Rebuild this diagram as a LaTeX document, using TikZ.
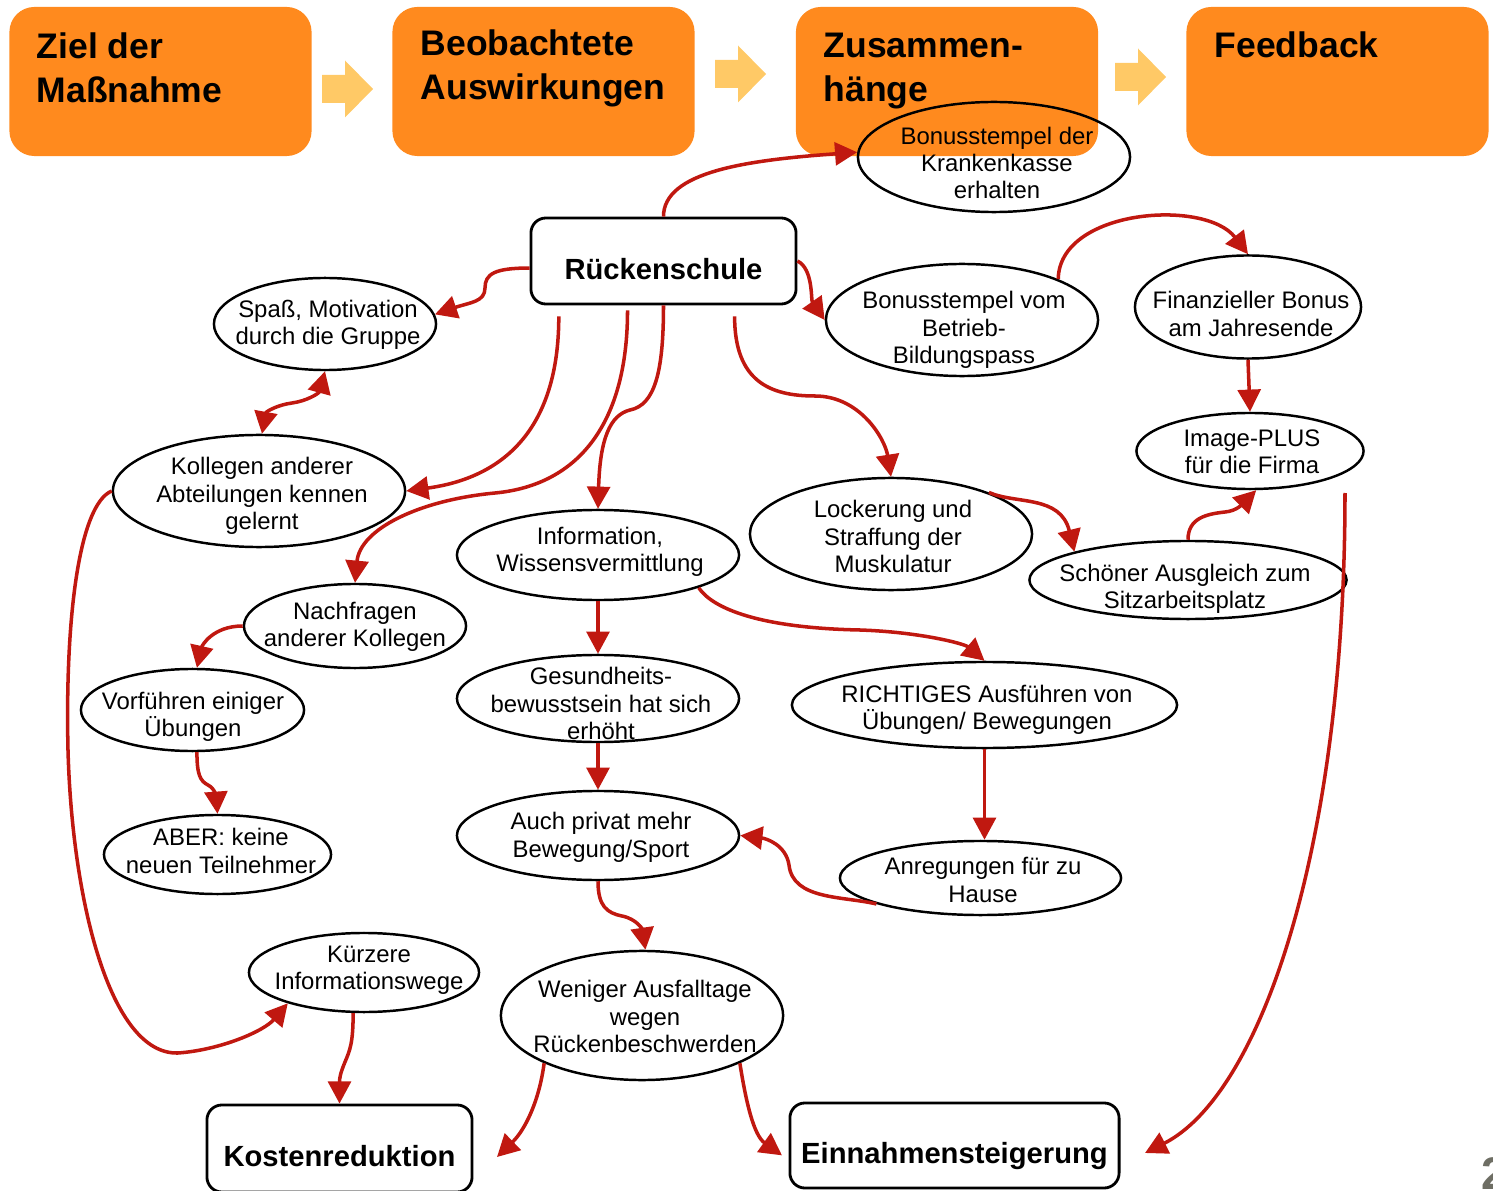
\documentclass[tikz,border=0pt]{standalone}
\usepackage{fontspec}
\setmainfont{Liberation Sans}
\usetikzlibrary{arrows.meta,shapes.geometric}

\definecolor{kopforange}{RGB}{255,138,30}
\definecolor{pfeilgelb}{RGB}{255,201,102}
\definecolor{linienrot}{RGB}{192,24,16}
\definecolor{seitengrau}{RGB}{110,110,100}

\tikzset{
  >={Triangle[length=6.3pt,width=6.5pt]},
  kopf/.style={fill=kopforange, rounded corners=0.25cm, inner sep=0pt,
    minimum width=3.02cm, minimum height=1.49cm},
  kopftext/.style={anchor=north west, inner sep=0pt, align=left,
    font=\fontsize{10.1}{12.5}\selectfont\bfseries},
  blockpfeil/.style={fill=pfeilgelb},
  blase/.style={ellipse, draw, line width=0.7pt, inner sep=0pt},
  blasentext/.style={inner sep=0pt, align=center,
    font=\fontsize{6.8}{7.8}\selectfont},
  kasten/.style={draw, line width=0.8pt, rounded corners=0.15cm, inner sep=0pt,
    text height=0.36cm, text depth=0cm, font=\fontsize{8.3}{10}\selectfont\bfseries},
  wirkung/.style={draw=linienrot, line width=1pt}
}

\begin{document}
\begin{tikzpicture}[x=0.01cm, y=-0.01cm]
\useasboundingbox (0,0) rectangle (1493,1191);

\node[kopf] (ziel) at (160.5,81.5) {};
\node[kopf] (beob) at (543.5,81.5) {};
\node[kopf] (zusam) at (947,81.5) {};
\node[kopf] (feedb) at (1337.5,81.5) {};
\node[kopftext] (zielT) at (36,32) {Ziel der\\Maßnahme};
\node[kopftext] (beobT) at (420,29) {Beobachtete\\Auswirkungen};
\node[kopftext] (zusamT) at (823,32) {Zusammen-\\hänge};
\node[kopftext] (feedbT) at (1214,31) {Feedback};
\foreach \x/\y in {322/89, 715/74, 1115/77}
  \fill[blockpfeil] (\x,\y) ++(0,-14) -- ++(23,0) -- ++(0,-14.5) -- ++(28,28.5)
    -- ++(-28,28.5) -- ++(0,-14.5) -- ++(-23,0) -- cycle;

\node[kasten, minimum width=2.65cm, minimum height=0.86cm] (ruecken) at (663.5,261) {Rückenschule};
\node[kasten, minimum width=2.65cm, minimum height=0.87cm] (kosten) at (339.5,1148.5) {Kostenreduktion};
\node[kasten, minimum width=3.29cm, minimum height=0.85cm] (einnahmen) at (954.5,1145.5) {Einnahmensteigerung};

\node[blase, minimum width=2.72cm, minimum height=1.10cm] (bonusKK) at (994,157) {};
\node[blase, minimum width=2.22cm, minimum height=0.92cm] (spass) at (325,324) {};
\node[blase, minimum width=2.72cm, minimum height=1.12cm] (bonusBB) at (962,320) {};
\node[blase, minimum width=2.26cm, minimum height=1.03cm] (finanz) at (1248,307) {};
\node[blase, minimum width=2.27cm, minimum height=0.76cm] (image) at (1250,451) {};
\node[blase, minimum width=2.92cm, minimum height=1.12cm] (kollegen) at (259,491) {};
\node[blase, minimum width=2.82cm, minimum height=0.90cm] (info) at (598,555) {};
\node[blase, minimum width=2.82cm, minimum height=1.12cm] (locker) at (891,534) {};
\node[blase, minimum width=3.17cm, minimum height=0.78cm] (schoen) at (1188,580) {};
\node[blase, minimum width=2.22cm, minimum height=0.84cm] (nachfr) at (355,626) {};
\node[blase, minimum width=2.82cm, minimum height=0.87cm] (gesund) at (598,698.5) {};
\node[blase, minimum width=3.85cm, minimum height=0.86cm] (richtig) at (984.5,705) {};
\node[blase, minimum width=2.23cm, minimum height=0.82cm] (vorf) at (192.5,710) {};
\node[blase, minimum width=2.82cm, minimum height=0.89cm] (auch) at (598,835.5) {};
\node[blase, minimum width=2.27cm, minimum height=0.79cm] (aber) at (217.5,854.5) {};
\node[blase, minimum width=2.81cm, minimum height=0.74cm] (anreg) at (980.5,878) {};
\node[blase, minimum width=2.30cm, minimum height=0.79cm] (kuerz) at (364,972.5) {};
\node[blase, minimum width=2.82cm, minimum height=1.29cm] (weniger) at (642,1015.5) {};

\node[blasentext] (bonusKKT) at (997,163) {Bonusstempel der\\Krankenkasse\\erhalten};
\node[blasentext] (spassT) at (328,325) {Spaß, Motivation\\durch die Gruppe};
\node[blasentext] (bonusBBT) at (964,330) {Bonusstempel vom\\Betrieb-\\Bildungspass};
\node[blasentext] (finanzT) at (1251,314) {Finanzieller Bonus\\am Jahresende};
\node[blasentext] (imageT) at (1252,451.5) {Image-PLUS\\für die Firma};
\node[blasentext] (kollegenT) at (262,496) {Kollegen anderer\\Abteilungen kennen\\gelernt};
\node[blasentext] (infoT) at (600,552) {Information,\\Wissensvermittlung};
\node[blasentext] (lockerT) at (893,536.5) {Lockerung und\\Straffung der\\Muskulatur};
\node[blasentext] (schoenT) at (1185,589) {Schöner Ausgleich zum\\Sitzarbeitsplatz};
\node[blasentext] (nachfrT) at (355,627) {Nachfragen\\anderer Kollegen};
\node[blasentext] (gesundT) at (601,703.5) {Gesundheits-\\bewusstsein hat sich\\erhöht};
\node[blasentext] (richtigT) at (987,710) {RICHTIGES Ausführen von\\Übungen/ Bewegungen};
\node[blasentext] (vorfT) at (193,717) {Vorführen einiger\\Übungen};
\node[blasentext] (auchT) at (601,837.5) {Auch privat mehr\\Bewegung/Sport};
\node[blasentext] (aberT) at (221,851) {ABER: keine\\neuen Teilnehmer};
\node[blasentext] (anregT) at (983,880) {Anregungen für zu\\Hause};
\node[blasentext] (kuerzT) at (369,970.5) {Kürzere\\Informationswege};
\node[blasentext] (wenigerT) at (645,1016.5) {Weniger Ausfalltage\\wegen\\Rückenbeschwerden};

\node[anchor=south west, inner sep=0pt, text=seitengrau,
  font=\fontsize{13}{15}\selectfont\bfseries] (seite) at (1481,1190) {2};

\coordinate (kostenPfeil) at (497,1157);
\coordinate (rechtsOben) at (1345,493);
\coordinate (einnahmenPfeil) at (1145,1153);

\draw[wirkung, ->] (ruecken.north) .. controls +(0,-45) and +(-110,8) .. (bonusKK.178);
\draw[wirkung, ->] (ruecken.183) .. controls +(-35,0) and +(0,-14) .. (485,288) .. controls +(0,14) and +(35,-12) .. (spass.5);
\draw[wirkung, ->] (ruecken.east) .. controls +(16,8) and +(-14,-20) .. (bonusBB.west);
\draw[wirkung, ->, shorten <=0.11cm] (ruecken.203) .. controls +(0,126) and +(95,-13) .. (kollegen.east);
\draw[wirkung, ->, shorten <=0.05cm] (ruecken.231) .. controls +(0,116) and +(85,-8) .. (495,493) .. controls +(-75,7) and +(5,-54) .. (nachfr.north);
\draw[wirkung, ->] (ruecken.south) .. controls +(0,66) and +(25,-5) .. (630,410) .. controls +(-20,5) and +(2,-70) .. (info.north);
\draw[wirkung, ->, shorten <=0.11cm] (ruecken.328) .. controls +(0,76) and +(-45,0) .. (815,396) .. controls +(45,0) and +(-6,-38) .. (locker.north);
\draw[wirkung, ->] (bonusBB.23) .. controls +(1,-70) and +(-43,-56) .. (finanz.north);
\draw[wirkung, ->] (finanz.south) -- (image.north);
\draw[wirkung, ->] (locker.23) .. controls +(27,12) and +(-14,-57) .. (schoen.166);
\draw[wirkung, ->] (schoen.north) .. controls +(0,-22) and +(-18,2) .. (1225,512) .. controls +(12,-1) and +(-13,13) .. (image.279);
\draw[wirkung, <->] (spass.south) .. controls +(-6,22) and +(15,-2) .. (292,403) .. controls +(-15,2) and +(4,-22) .. (kollegen.87);
\draw[wirkung, ->] (kollegen.west) .. controls +(-33,14) and +(-3,-130) .. (68,750) .. controls +(4,150) and +(-68,2) .. (178,1053) .. controls +(42,-3) and +(-24,28) .. (kuerz.202);
\draw[wirkung, ->] (nachfr.west) .. controls +(-30,0) and +(5,-22) .. (vorf.84);
\draw[wirkung, ->] (vorf.276) .. controls +(0,22) and +(-8,-4) .. (208,785) .. controls +(8,4) and +(-1,-14) .. (aber.north);
\draw[wirkung, ->] (info.south) -- (gesund.north);
\draw[wirkung, ->] (info.342) .. controls +(14,21) and +(-100,-2) .. (860,630) .. controls +(60,2) and +(-20,-17) .. (richtig.north);
\draw[wirkung, ->] (gesund.south) -- (auch.north);
\draw[wirkung, ->] (richtig.south) -- (anreg.north -| richtig.south);
\draw[wirkung, ->] (anreg.194) .. controls +(-34,-8) and +(4,35) .. (789,865) .. controls +(-3,-20) and +(26,3) .. (auch.east);
\draw[wirkung, ->] (auch.south) .. controls +(0,25) and +(-15,-3) .. (622,916) .. controls +(15,3) and +(-3,-20) .. (weniger.87);
\draw[wirkung, ->] (kuerz.255) .. controls +(0,30) and +(5,-12) .. (345,1062) .. controls +(-5,12) and +(0,-25) .. (kosten.north);
\draw[wirkung, ->] (weniger.206) .. controls +(-5,38) and +(28,-27) .. (kostenPfeil);
\draw[wirkung, ->, shorten >=0.08cm] (weniger.334) .. controls +(6,38) and +(-35,-25) .. (einnahmen.185);
\draw[wirkung, ->] (rechtsOben) .. controls +(0,357) and +(115,-58) .. (einnahmenPfeil);
\end{tikzpicture}
\end{document}
